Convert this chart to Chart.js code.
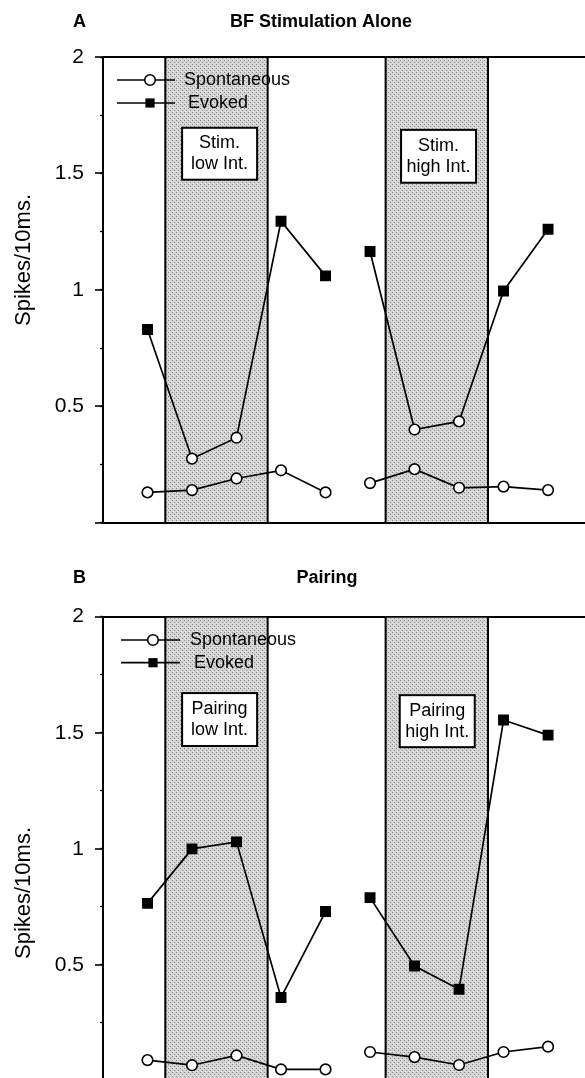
<!DOCTYPE html>
<html>
<head>
<meta charset="utf-8">
<script src="https://cdn.jsdelivr.net/npm/chart.js@4.4.1/dist/chart.umd.min.js"></script>
<style>
  html, body { margin: 0; padding: 0; background: #fff; overflow: hidden; }
  #wrap { position: relative; width: 585px; height: 1078px; overflow: hidden; }
  canvas { position: absolute; left: 0; }
  #chartA { top: 0; }
  #chartB { top: 540px; }
</style>
</head>
<body>
<div id="wrap">
  <canvas id="chartA" width="585" height="540"></canvas>
  <canvas id="chartB" width="585" height="560"></canvas>
</div>
<script>
// recording blocks along x (no tick labels drawn)
const timePoints = [0, 1, 2, 3, 4, 5, 6, 7, 8, 9];
const yTickStep = 0.5;
const yMinorStep = 0.25;

// A - BF stimulation alone
const spontA  = [0.13, 0.14, 0.19, 0.225, 0.13, 0.17, 0.23, 0.15, 0.155, 0.14];
const evokedA = [0.83, 0.275, 0.365, 1.295, 1.06, 1.165, 0.40, 0.435, 0.995, 1.26];
const evokedMarksA = ['rect', 'circle', 'circle', 'rect', 'rect', 'rect', 'circle', 'circle', 'rect', 'rect'];

// B - pairing
const spontB  = [0.09, 0.068, 0.11, 0.05, 0.05, 0.125, 0.103, 0.069, 0.125, 0.148];
const evokedB = [0.765, 1.0, 1.03, 0.36, 0.73, 0.79, 0.495, 0.395, 1.555, 1.49];
const evokedMarksB = ['rect', 'rect', 'rect', 'rect', 'rect', 'rect', 'rect', 'rect', 'rect', 'rect'];

// shaded stimulation periods (x units)
const bands = [[0.4, 2.7], [5.35, 7.65]];

const FONT = "'Liberation Sans', Arial, Helvetica, sans-serif";

// halftone-like fill for the shaded bands
const stipple = (() => {
    const c = document.createElement('canvas');
    c.width = 4; c.height = 4;
    const g = c.getContext('2d');
    g.fillStyle = '#d4d4d4';
    g.fillRect(0, 0, 4, 4);
    g.fillStyle = '#8a8a8a';
    g.fillRect(0, 0, 1, 1);
    g.fillRect(2, 2, 1, 1);
    g.fillStyle = '#eeeeee';
    g.fillRect(1, 3, 1, 1);
    return c;
})();

function buildSeries(values, marks) {
    const pts = [], styles = [];
    values.forEach((v, i) => {
        pts.push({ x: timePoints[i], y: v });
        styles.push(marks ? marks[i] : 'circle');
        if (i === 4) {
            // break the line between the two halves
            pts.push({ x: 4.5, y: null });
            styles.push('circle');
        }
    });
    return { pts, styles };
}

function makeDataset(label, values, marks) {
    const s = buildSeries(values, marks);
    return {
        label: label,
        data: s.pts,
        borderColor: '#000',
        borderWidth: 1.7,
        pointStyle: s.styles,
        pointRadius: s.styles.map(p => p === 'rect' ? 6.6 : 5.3),
        pointBackgroundColor: s.styles.map(p => p === 'rect' ? '#000' : '#fff'),
        pointBorderColor: '#000',
        pointBorderWidth: 1.6,
        spanGaps: false,
        tension: 0
    };
}

function drawMarker(ctx, style, x, y) {
    ctx.beginPath();
    if (style === 'rect') {
        ctx.fillStyle = '#000';
        ctx.fillRect(x - 4.6, y - 4.6, 9.2, 9.2);
    } else {
        ctx.arc(x, y, 5.3, 0, Math.PI * 2);
        ctx.fillStyle = '#fff';
        ctx.fill();
        ctx.lineWidth = 1.6;
        ctx.strokeStyle = '#000';
        ctx.stroke();
    }
}

const decorPlugin = {
    id: 'decor',
    beforeDatasetsDraw(chart, args, opts) {
        const { ctx, chartArea: a, scales: { x, y } } = chart;
        ctx.save();
        bands.forEach(([b0, b1]) => {
            const l = x.getPixelForValue(b0), r = x.getPixelForValue(b1);
            ctx.fillStyle = ctx.createPattern(stipple, 'repeat');
            ctx.fillRect(l, a.top + 1, r - l, a.bottom - a.top - 2);
            ctx.strokeStyle = '#000';
            ctx.lineWidth = 2;
            ctx.beginPath();
            ctx.moveTo(l, a.top); ctx.lineTo(l, a.bottom);
            ctx.moveTo(r, a.top); ctx.lineTo(r, a.bottom);
            ctx.stroke();
        });

        // label boxes inside the bands
        ctx.font = '18px ' + FONT;
        ctx.textAlign = 'center';
        ctx.textBaseline = 'middle';
        opts.boxes.forEach(b => {
            const cx = x.getPixelForValue(b.x);
            const t = y.getPixelForValue(b.top), btm = y.getPixelForValue(b.bottom);
            ctx.fillStyle = '#fff';
            ctx.fillRect(cx - 37.5, t, 75, btm - t);
            ctx.strokeStyle = '#000';
            ctx.lineWidth = 2;
            ctx.strokeRect(cx - 37.5, t, 75, btm - t);
            ctx.fillStyle = '#000';
            const mid = (t + btm) / 2;
            ctx.fillText(b.lines[0], cx, mid - 10.5);
            ctx.fillText(b.lines[1], cx, mid + 10.5);
        });
        ctx.restore();
    },
    afterDraw(chart, args, opts) {
        const ctx = chart.ctx;
        ctx.save();
        ctx.fillStyle = '#000';
        ctx.textBaseline = 'middle';

        // panel letter + title
        ctx.font = 'bold 18px ' + FONT;
        ctx.textAlign = 'left';
        ctx.fillText(opts.letter, 73, opts.titleY);
        ctx.textAlign = 'center';
        ctx.fillText(opts.title, opts.titleX, opts.titleY);

        // y axis title
        ctx.save();
        ctx.translate(opts.yTitle.x, opts.yTitle.y);
        ctx.rotate(-Math.PI / 2);
        ctx.font = '22px ' + FONT;
        ctx.fillText('Spikes/10ms.', 0, 0);
        ctx.restore();

        // legend
        const lg = opts.legend;
        const rows = [
            { text: 'Spontaneous', style: 'circle', y: lg.y1, tx: lg.tx1 },
            { text: 'Evoked', style: 'rect', y: lg.y2, tx: lg.tx2 }
        ];
        rows.forEach(r => {
            ctx.strokeStyle = '#000';
            ctx.lineWidth = 1.7;
            ctx.beginPath();
            ctx.moveTo(lg.x0, r.y);
            ctx.lineTo(lg.x1, r.y);
            ctx.stroke();
            drawMarker(ctx, r.style, lg.mx, r.y);
            ctx.fillStyle = '#000';
            ctx.font = '18px ' + FONT;
            ctx.textAlign = 'left';
            ctx.fillText(r.text, r.tx, r.y);
        });
        ctx.restore();
    }
};

function makeChart(id, spont, evoked, evokedMarks, pad, decor) {
    return new Chart(document.getElementById(id), {
        type: 'line',
        data: {
            datasets: [
                makeDataset('Spontaneous', spont, null),
                makeDataset('Evoked', evoked, evokedMarks)
            ]
        },
        options: {
            responsive: false,
            animation: false,
            layout: { padding: pad, autoPadding: false },
            plugins: {
                legend: { display: false },
                tooltip: { enabled: false },
                decor: decor
            },
            scales: {
                x: {
                    type: 'linear',
                    min: -1,
                    max: 9.83,
                    ticks: { display: false },
                    grid: { color: 'rgba(0,0,0,0)', drawTicks: false },
                    border: { display: true, color: '#000', width: 2 },
                    afterFit: s => { s.height = 0; }
                },
                y: {
                    type: 'linear',
                    position: 'left',
                    weight: 1,
                    min: 0,
                    max: 2,
                    ticks: {
                        stepSize: yTickStep,
                        padding: 11,
                        color: '#000',
                        font: { family: FONT, size: 21 },
                        callback: v => v === 0 ? '' : String(v)
                    },
                    grid: {
                        color: c => (c.tick && c.tick.value === 2) ? '#000' : 'rgba(0,0,0,0)',
                        lineWidth: 2,
                        tickLength: 8,
                        tickColor: '#000',
                        tickWidth: 1.6
                    },
                    border: { display: true, color: '#000', width: 2 },
                    afterFit: s => { s.width = 103; s.paddingTop = 0; s.paddingBottom = 0; }
                },
                yMinor: {
                    type: 'linear',
                    position: 'left',
                    weight: 0,
                    min: 0,
                    max: 2,
                    ticks: { display: false, stepSize: yMinorStep },
                    grid: { drawOnChartArea: false, tickLength: 3, tickColor: '#000', tickWidth: 1.3 },
                    border: { display: false },
                    afterFit: s => { s.width = 0; s.paddingTop = 0; s.paddingBottom = 0; }
                }
            }
        },
        plugins: [decorPlugin]
    });
}

makeChart('chartA', spontA, evokedA, evokedMarksA,
    { top: 57, bottom: 17.3, left: 0, right: 0 },
    {
        letter: 'A', title: 'BF Stimulation Alone', titleX: 321, titleY: 22,
        yTitle: { x: 24, y: 260 },
        legend: { x0: 117, x1: 175, mx: 150, y1: 80, y2: 103, tx1: 184, tx2: 188 },
        boxes: [
            { x: 1.62, top: 1.696, bottom: 1.473, lines: ['Stim.', 'low Int.'] },
            { x: 6.54, top: 1.687, bottom: 1.460, lines: ['Stim.', 'high Int.'] }
        ]
    });

makeChart('chartB', spontB, evokedB, evokedMarksB,
    { top: 76.7, bottom: 19, left: 0, right: 0 },
    {
        letter: 'B', title: 'Pairing', titleX: 327, titleY: 38,
        yTitle: { x: 24, y: 353 },
        legend: { x0: 121, x1: 180, mx: 153, y1: 100, y2: 122.7, tx1: 190, tx2: 194 },
        boxes: [
            { x: 1.62, top: 1.671, bottom: 1.443, lines: ['Pairing', 'low Int.'] },
            { x: 6.51, top: 1.662, bottom: 1.438, lines: ['Pairing', 'high Int.'] }
        ]
    });
</script>
</body>
</html>
